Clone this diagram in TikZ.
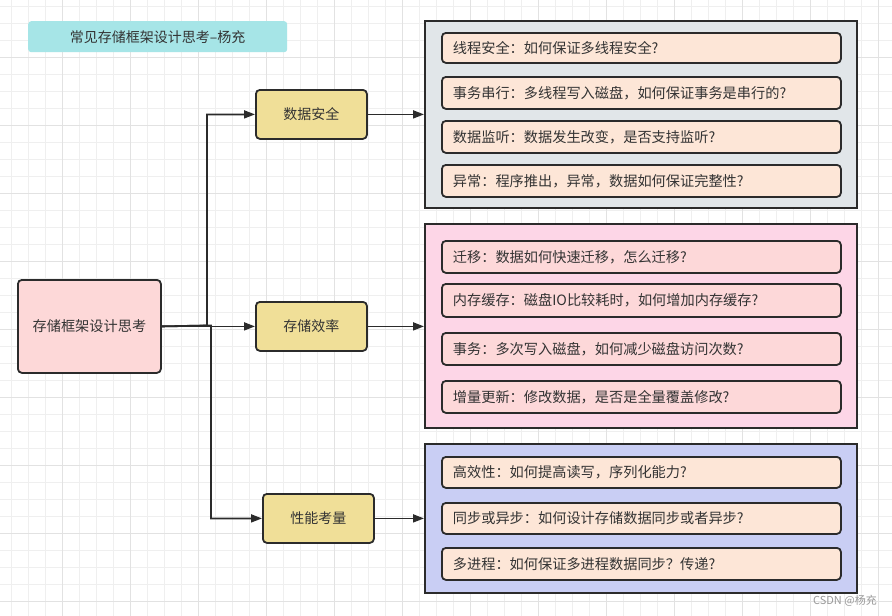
\documentclass[tikz,border=0pt]{standalone}
\usepackage{fontspec}
\setmainfont{Noto Sans CJK SC}
\usetikzlibrary{arrows.meta}
\definecolor{gridminor}{HTML}{EFEFEF}
\definecolor{gridmajor}{HTML}{E2E2E2}
\definecolor{titlefill}{HTML}{A6E5E7}
\definecolor{rootfill}{HTML}{FDD8D8}
\definecolor{subfill}{HTML}{F0DF98}
\definecolor{gonefill}{HTML}{E1E6E9}
\definecolor{gtwofill}{HTML}{FDD6E7}
\definecolor{gthreefill}{HTML}{C9CEF4}
\definecolor{peach}{HTML}{FDE6D7}
\definecolor{pinkitem}{HTML}{FDD8D9}
\definecolor{edge}{HTML}{2B2B2B}
\definecolor{txt}{HTML}{333333}
\tikzset{
  box/.style={draw=edge, line width=1.8pt, rounded corners=4pt, text=txt, inner sep=0pt, anchor=north west},
  group/.style={draw=edge, line width=1.8pt, inner sep=0pt, anchor=north west},
  itembox/.style={box, minimum width=399pt, text width=377pt, align=left, font=\fontsize{14.2}{16}\selectfont},
  conn/.style={draw=edge, line width=1.8pt, -{Triangle[length=11pt,width=8pt]}},
}
\begin{document}
\begin{tikzpicture}[x=1pt,y=-1pt]
\fill[white] (0,0) rectangle (892,616);
\useasboundingbox (0,0) rectangle (892,616);
% grid
\foreach \k in {0,...,52} {
  \draw[gridminor, line width=0.8pt] (11+17*\k,0) -- (11+17*\k,616);
}
\foreach \k in {0,...,36} {
  \draw[gridminor, line width=0.8pt] (0,6+17*\k) -- (892,6+17*\k);
}
\foreach \k in {0,...,13} {
  \draw[gridmajor, line width=1pt] (62+68*\k,0) -- (62+68*\k,616);
}
\foreach \k in {0,...,8} {
  \draw[gridmajor, line width=1pt] (0,57+68*\k) -- (892,57+68*\k);
}
% title
\node[fill=titlefill, rounded corners=3pt, minimum width=259pt, minimum height=31pt, inner sep=0pt, anchor=north west, text=txt, font=\fontsize{14}{16}\selectfont] (title) at (28,21) {常见存储框架设计思考–杨充};
% root
\node[box, fill=rootfill, minimum width=143pt, minimum height=93pt, font=\fontsize{14.2}{16}\selectfont] (root) at (17,279) {存储框架设计思考};
% subtopics
\node[box, fill=subfill, minimum width=111pt, minimum height=49pt, font=\fontsize{14}{16}\selectfont] (s1) at (255,89) {数据安全};
\node[box, fill=subfill, minimum width=111pt, minimum height=49pt, font=\fontsize{14}{16}\selectfont] (s2) at (255,301) {存储效率};
\node[box, fill=subfill, minimum width=111pt, minimum height=49pt, font=\fontsize{14}{16}\selectfont] (s3) at (262,493) {性能考量};
% groups
\node[group, fill=gonefill, minimum width=432pt, minimum height=187pt] (g1) at (424,20) {};
\node[group, fill=gtwofill, minimum width=432pt, minimum height=204pt] (g2) at (424,223) {};
\node[group, fill=gthreefill, minimum width=432pt, minimum height=149pt] (g3) at (424,443) {};
% group 1 items
\node[itembox, fill=peach, minimum height=30pt] (a1) at (441,32) {线程安全：如何保证多线程安全?};
\node[itembox, fill=peach, minimum height=32pt] (a2) at (441,76) {事务串行：多线程写入磁盘，如何保证事务是串行的?};
\node[itembox, fill=peach, minimum height=32pt] (a3) at (441,120) {数据监听：数据发生改变，是否支持监听?};
\node[itembox, fill=peach, minimum height=32pt] (a4) at (441,164) {异常：程序推出，异常，数据如何保证完整性?};
% group 2 items
\node[itembox, fill=pinkitem, minimum height=32pt] (b1) at (441,240) {迁移：数据如何快速迁移，怎么迁移?};
\node[itembox, fill=pinkitem, minimum height=33pt] (b2) at (441,283) {内存缓存：磁盘IO比较耗时，如何增加内存缓存?};
\node[itembox, fill=pinkitem, minimum height=32pt] (b3) at (441,332) {事务：多次写入磁盘，如何减少磁盘访问次数?};
\node[itembox, fill=pinkitem, minimum height=32pt] (b4) at (441,380) {增量更新：修改数据，是否是全量覆盖修改?};
% group 3 items
\node[itembox, fill=peach, minimum height=31pt] (c1) at (441,456) {高效性：如何提高读写，序列化能力?};
\node[itembox, fill=peach, minimum height=31pt] (c2) at (441,502) {同步或异步：如何设计存储数据同步或者异步?};
\node[itembox, fill=peach, minimum height=32pt] (c3) at (441,547) {多进程：如何保证多进程数据同步？传递?};
% connectors
\coordinate (j1) at (207,325.5);
\coordinate (j2) at (211,325.5);
\draw[conn] (root.east) -- (j1) |- (s1.west);
\draw[conn] (root.east) -- (s2.west);
\draw[conn] (root.east) -- (j2) |- (s3.west);
\draw[conn] (s1.east) -- (s1.east -| g1.west);
\draw[conn] (s2.east) -- (s2.east -| g2.west);
\draw[conn] (s3.east) -- (s3.east -| g3.west);
% watermark
\node[anchor=east, text=black!40, font=\fontsize{11}{13}\selectfont, inner sep=0pt] (wm) at (877,601) {CSDN @杨充};
\end{tikzpicture}
\end{document}
